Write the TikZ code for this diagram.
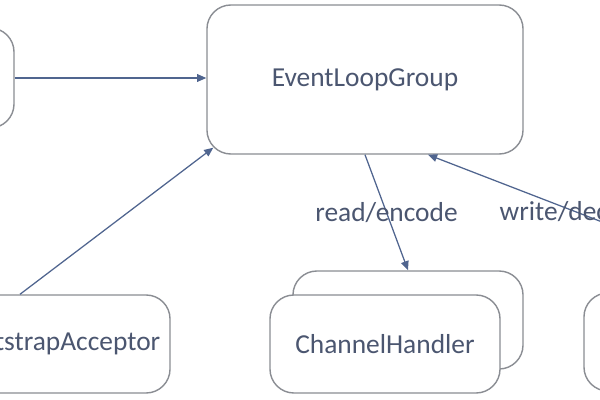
\documentclass[tikz,border=0pt]{standalone}
\usepackage{fontspec}
\setmainfont{Carlito}
\usetikzlibrary{arrows.meta, positioning, calc}
\definecolor{boxgray}{HTML}{8A8D93}
\definecolor{linkblue}{HTML}{50658F}
\definecolor{textslate}{HTML}{4B5670}

\begin{document}
\begin{tikzpicture}[
    x=0.025cm, y=-0.025cm,
    box/.style={
        rectangle, rounded corners=0.6cm, draw=boxgray, line width=1pt,
        fill=white, minimum width=5.75cm, minimum height=2.45cm,
        font=\fontsize{19.5}{22}\selectfont, text=textslate, align=center
    },
    link/.style={-{Triangle[length=6.5pt, width=5.5pt]}, line width=0.9pt, linkblue},
    lbl/.style={font=\fontsize{19.5}{22}\selectfont, text=textslate},
]
\useasboundingbox (0,0) rectangle (600,400);
\clip (0,0) rectangle (600,400);

% Nodes
\node[box, minimum width=7.9cm, minimum height=3.725cm] (elg) at (365,79.5) {EventLoopGroup};
\node[box, minimum width=4.1cm, minimum height=2.5cm] (boot) at (-68,78) {};
\node[box, minimum width=7.5cm] (acc) at (20,344) {ServerBootstrapAcceptor};

% Stacked handler boxes
\node[box] (chback) at (408,320) {};
\node[box] (ch) at ($(chback)+(-23,24)$) {ChannelHandler};
\node[box] (rhback) at (722,318) {};
\node[box] (rh) at ($(rhback)+(-23,24)$) {};

% Left arrow: boot -> EventLoopGroup
\draw[link] (boot.east) -- (boot.east -| elg.west);

% Acceptor -> EventLoopGroup corner
\draw[link] (acc.north) -- ($(elg.south west)+(7,-7)$);

% EventLoopGroup -> ChannelHandler
\draw[link] (elg.south) -- node[lbl] {read/encode} (chback.north);

% right handler -> EventLoopGroup
\draw[link] (rhback.north) -- node[lbl] {write/decode} ($(elg.south)+(63,0)$);

\end{tikzpicture}
\end{document}
